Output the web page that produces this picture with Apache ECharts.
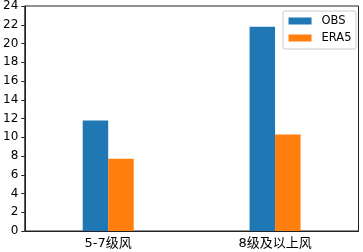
<!DOCTYPE html>
<html><head><meta charset="utf-8">
<script src="https://cdn.jsdelivr.net/npm/echarts@6/dist/echarts.min.js"></script>
<style>html,body{margin:0;padding:0;background:#fff}#c{width:363px;height:252px}</style>
</head><body><div id="c"></div>
<script>
const categories = ['5-7级风', '8级及以上风'];
const obsValues = [11.8, 21.8];
const era5Values = [7.7, 10.3];
const yTicks = {min: 0, max: 24, interval: 2};

const chart = echarts.init(document.getElementById('c'), null, {renderer: 'canvas'});
const font = 'DejaVu Sans, "Noto Sans CJK SC", sans-serif';
chart.setOption({
  animation: false,
  grid: {left: 22.5, right: 4.5, top: 5, bottom: 21, show: true, borderColor: '#222', borderWidth: 1, backgroundColor: 'transparent'},
  legend: {
    right: 7, top: 11, orient: 'vertical', itemWidth: 23, itemHeight: 7, itemGap: 4,
    padding: [3.5, 4.5, 4.5, 5.5],
    borderColor: '#ccc', borderWidth: 1, borderRadius: 2, backgroundColor: 'rgba(255,255,255,0.8)',
    textStyle: {fontFamily: font, fontSize: 11.5, lineHeight: 13, color: '#000', padding: [0, 0, 0, 5]},
    icon: 'rect',
    data: ['OBS', 'ERA5']
  },
  xAxis: {
    type: 'category', data: categories,
    axisLine: {lineStyle: {color: '#222', width: 1}},
    axisTick: {alignWithLabel: true, length: 3.5, lineStyle: {color: '#222'}},
    axisLabel: {fontFamily: font, fontSize: 13, color: '#000', margin: 6}
  },
  yAxis: {
    type: 'value', min: yTicks.min, max: yTicks.max, interval: yTicks.interval,
    splitLine: {show: false},
    axisLine: {show: true, lineStyle: {color: '#222', width: 1}},
    axisTick: {show: true, length: 3.5, lineStyle: {color: '#222'}},
    axisLabel: {fontFamily: font, fontSize: 12, color: '#000', margin: 6.5}
  },
  series: [
    {name: 'OBS', type: 'bar', data: obsValues, barWidth: 25.5, barGap: '0%', itemStyle: {color: '#1f77b4'}},
    {name: 'ERA5', type: 'bar', data: era5Values, barWidth: 25.5, itemStyle: {color: '#ff7f0e'}}
  ]
});
</script></body></html>
